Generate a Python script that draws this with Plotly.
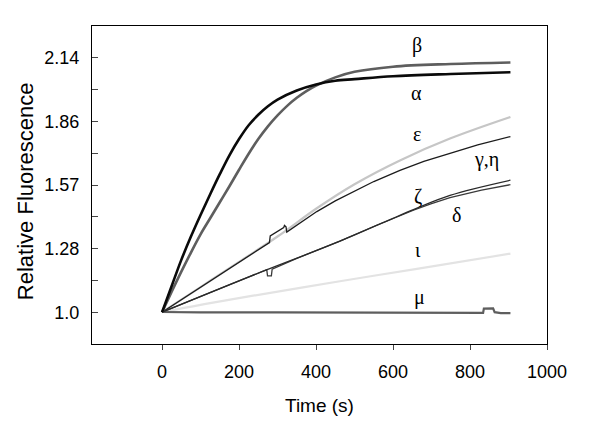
"""Relative fluorescence vs time for the alpha..mu variants."""

import plotly.graph_objects as go

# time (s) / relative fluorescence
T_ALPHA = [0, 25, 50, 75, 100, 125, 150, 175, 200, 225, 250, 275, 300, 350, 400, 450, 500,
           600, 750, 905]
ALPHA = [1.0, 1.118, 1.235, 1.34, 1.437, 1.53, 1.62, 1.705, 1.778, 1.84, 1.887, 1.925,
         1.955, 1.996, 2.023, 2.04, 2.047, 2.06, 2.07, 2.078]

T_BETA = [0, 25, 50, 75, 100, 125, 150, 175, 200, 225, 250, 275, 300, 325, 350, 375, 400,
          450, 500, 600, 750, 905]
BETA = [1.0, 1.092, 1.182, 1.268, 1.35, 1.422, 1.494, 1.566, 1.64, 1.712, 1.778, 1.835,
        1.884, 1.927, 1.963, 1.993, 2.018, 2.055, 2.08, 2.103, 2.115, 2.122]

T_EPS = [0, 100, 200, 300, 402, 500, 618, 748, 905]
EPSILON = [1.0, 1.113, 1.226, 1.34, 1.467, 1.575, 1.682, 1.78, 1.877]

T_GAMMA = [0, 100, 200, 279, 281, 316, 318, 322, 324, 360, 402, 450, 500, 550, 618, 680,
           748, 820, 905]
GAMMA_ETA = [1.0, 1.112, 1.224, 1.313, 1.343, 1.38, 1.39, 1.384, 1.36, 1.402, 1.452, 1.5,
             1.545, 1.587, 1.637, 1.678, 1.714, 1.752, 1.789]

T_ZETA = [0, 229, 462, 653, 748, 905]
ZETA = [1.0, 1.161, 1.319, 1.461, 1.525, 1.593]

T_DELTA = [0, 229, 272, 274, 284, 286, 350, 462, 550, 653, 700, 748, 830, 905]
DELTA = [1.0, 1.161, 1.191, 1.163, 1.163, 1.193, 1.242, 1.319, 1.385, 1.458, 1.488, 1.515,
         1.548, 1.573]

T_IOTA = [0, 100, 229, 462, 662, 905]
IOTA = [1.0, 1.033, 1.072, 1.139, 1.195, 1.263]

T_MU = [0, 100, 300, 500, 700, 834, 836, 860, 864, 880, 905]
MU = [1.001, 0.999, 0.999, 0.998, 0.998, 0.997, 1.016, 1.017, 1.0, 0.996, 0.996]

X_TICKS = [0, 200, 400, 600, 800, 1000]
Y_TICKS = [1 + k / 7 for k in range(9)]
Y_TICKTEXT = ["1.0", "", "1.28", "", "1.57", "", "1.86", "", "2.14"]

# curve labels: (text, t, value)
LABELS = [
    ("β", 662, 2.20), ("α", 662, 1.985), ("ε", 662, 1.80), ("γ,η", 843, 1.685),
    ("ζ", 666, 1.52), ("δ", 765, 1.438), ("ι", 666, 1.281), ("μ", 670, 1.065),
]

# (t, y, colour, width, shape)
series = [
    (T_IOTA, IOTA, "#e3e3e3", 2.2, "spline"),
    (T_MU, MU, "#5e5e5e", 2.2, "linear"),
    (T_EPS, EPSILON, "#c6c6c6", 2.2, "spline"),
    (T_GAMMA, GAMMA_ETA, "#1c1c1c", 1.3, "linear"),
    (T_DELTA, DELTA, "#3a3a3a", 1.3, "linear"),
    (T_ZETA, ZETA, "#2a2a2a", 1.3, "spline"),
    (T_BETA, BETA, "#5e5e5e", 2.6, "spline"),
    (T_ALPHA, ALPHA, "#0a0a0a", 2.6, "spline"),
]

fig = go.Figure()
for t, y, color, width, shape in series:
    line = dict(color=color, width=width, shape=shape)
    if shape == "spline":
        line["smoothing"] = 1.0
    fig.add_trace(go.Scatter(x=t, y=y, mode="lines", line=line))

for text, t, v in LABELS:
    fig.add_annotation(x=t, y=v, text=text, showarrow=False,
                       font=dict(family="Liberation Serif", size=20, color="black"))

fig.add_annotation(x=-0.147, y=0.481, xref="paper", yref="paper", text="Relative Fluorescence",
                   textangle=-90, showarrow=False, xanchor="center", yanchor="middle",
                   font=dict(family="Liberation Sans", size=22, color="black"))
fig.add_annotation(x=0.5, y=-0.192, xref="paper", yref="paper", text="Time (s)",
                   showarrow=False, xanchor="center", yanchor="middle",
                   font=dict(family="Liberation Sans", size=19, color="black"))

# page body adds 8px offset, so margins are shifted left/up by 8
fig.update_layout(
    width=600, height=441,
    margin=dict(l=84, r=61, t=18, b=105),
    paper_bgcolor="white", plot_bgcolor="white",
    showlegend=False,
    font=dict(family="Liberation Sans", size=18, color="black"),
    xaxis=dict(range=[-182, 1000], tickvals=X_TICKS, ticks="outside", ticklen=5,
               showline=True, mirror=True, linecolor="black", linewidth=1,
               showgrid=False, zeroline=False, ticklabelstandoff=6, automargin=False),
    yaxis=dict(range=[6 / 7, 16 / 7], tickvals=Y_TICKS, ticktext=Y_TICKTEXT,
               ticks="inside", ticklen=6, showline=True, mirror=True,
               linecolor="black", linewidth=1, showgrid=False, zeroline=False,
               ticklabelstandoff=8, automargin=False),
)

fig.write_html("out.html")
